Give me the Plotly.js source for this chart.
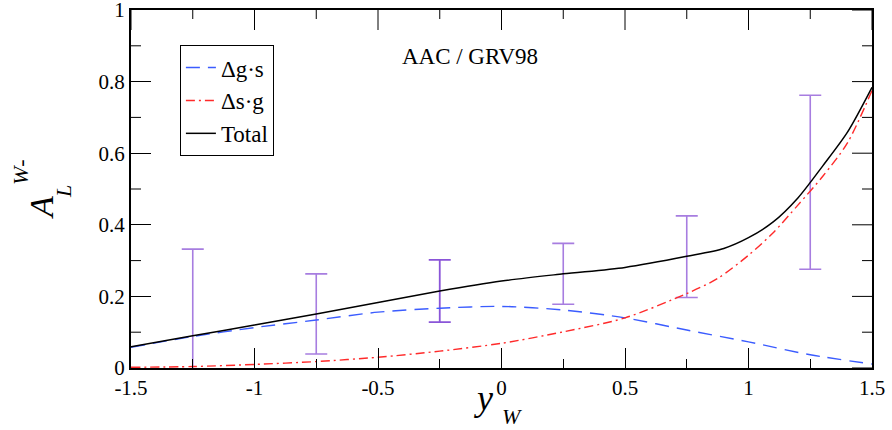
<!DOCTYPE html>
<html>
<head>
<meta charset="utf-8">
<script src="https://cdn.plot.ly/plotly-3.0.1.min.js"></script>
<style>
html,body{margin:0;padding:0;background:#fff;}
#wrap{position:relative;width:892px;height:430px;}
#plot{position:absolute;left:0;top:0;width:892px;height:430px;}
#model{position:absolute;left:320px;top:43px;width:300px;text-align:center;font-family:'Liberation Serif',serif;font-size:23px;line-height:28px;color:#000;z-index:5;}
.js-plotly-plot svg text{font-family:'Liberation Serif',serif !important;}
</style>
</head>
<body>
<div id="wrap">
<div id="plot"></div>
<div id="model">AAC / GRV98</div>
</div>
<script>
// Δg·s curve
const gsX = [-1.5,-1.25,-1,-0.75,-0.5,-0.25,0,0.25,0.5,0.75,1,1.25,1.5];
const gsY = [0.058,0.088,0.113,0.134,0.156,0.167,0.172,0.162,0.140,0.106,0.073,0.037,0.011];
// Δs·g curve
const sgX = [-1.5,-1.25,-1,-0.75,-0.5,-0.25,0,0.25,0.5,0.75,0.875,1,1.1,1.2,1.3,1.4,1.5];
const sgY = [0.002,0.004,0.010,0.018,0.030,0.047,0.069,0.101,0.140,0.208,0.250,0.315,0.378,0.455,0.535,0.628,0.775];
// Total curve
const totX = [-1.5,-1.25,-1,-0.75,-0.5,-0.25,0,0.25,0.5,0.75,0.9,1.0,1.1,1.2,1.3,1.4,1.5];
const totY = [0.059,0.090,0.120,0.151,0.183,0.215,0.243,0.263,0.281,0.312,0.334,0.364,0.408,0.475,0.564,0.658,0.784];
// projected error bars
const errX = [-1.25,-0.75,-0.25,0.25,0.75,1.25];
const errC = [0.090,0.151,0.215,0.263,0.311,0.519];
const errE = [0.242,0.112,0.087,0.085,0.114,0.243];
const darkIdx = [2];
// ticks
const xTicks = [-1.5,-1,-0.5,0,0.5,1,1.5];
const xTickText = ['-1.5','-1','-0.5','0','0.5','1','1.5'];
const xMinor = [-1.25,-0.75,-0.25,0.25,0.75,1.25];
const yTicks = [0,0.2,0.4,0.6,0.8,1];
const yTickText = ['0','0.2','0.4','0.6','0.8','1'];
const yMinor = [0.1,0.3,0.5,0.7,0.9];

const FAM = 'Liberation Serif';
const lightI = errX.map((_,i)=>i).filter(i=>!darkIdx.includes(i));
function fnt(size){ return {family:FAM, size:size, color:'#000'}; }

const traces = [
  {x: lightI.map(i=>errX[i]), y: lightI.map(i=>errC[i]), mode:'markers', marker:{size:0.1,color:'rgba(0,0,0,0)'},
   error_y:{type:'data', array: lightI.map(i=>errE[i]), color:'#a77de0', thickness:1.6, width:11}, showlegend:false, hoverinfo:'skip'},
  {x: darkIdx.map(i=>errX[i]), y: darkIdx.map(i=>errC[i]), mode:'markers', marker:{size:0.1,color:'rgba(0,0,0,0)'},
   error_y:{type:'data', array: darkIdx.map(i=>errE[i]), color:'#8a55d8', thickness:1.8, width:11}, showlegend:false, hoverinfo:'skip'},
  {x: gsX, y: gsY, mode:'lines', name:'Δg·s', line:{color:'#3b5cff', width:1.4, dash:'14px,8px', shape:'spline', smoothing:0.8}},
  {x: sgX, y: sgY, mode:'lines', name:'Δs·g', line:{color:'#ff2a2a', width:1.4, dash:'9px,4px,2px,4px', shape:'spline', smoothing:0.8}},
  {x: totX, y: totY, mode:'lines', name:'Total', line:{color:'#000000', width:1.5, shape:'spline', smoothing:0.8}}
];

// tick marks on the top and right frame edges, and minor ticks on the left, built from the tick arrays
const shapes = [];
function tk(s){ shapes.push(Object.assign({type:'line', layer:'above', line:{color:'#000', width:1}}, s)); }
xTicks.forEach(v=>tk({xref:'x', yref:'paper', x0:v, x1:v, ysizemode:'pixel', yanchor:1, y0:0, y1:-20}));
xMinor.forEach(v=>tk({xref:'x', yref:'paper', x0:v, x1:v, ysizemode:'pixel', yanchor:1, y0:0, y1:-9}));
yTicks.forEach(v=>tk({xref:'paper', yref:'y', y0:v, y1:v, xsizemode:'pixel', xanchor:1, x0:0, x1:-20}));
yMinor.forEach(v=>tk({xref:'paper', yref:'y', y0:v, y1:v, xsizemode:'pixel', xanchor:1, x0:0, x1:-10}));
yMinor.forEach(v=>tk({xref:'paper', yref:'y', y0:v, y1:v, xsizemode:'pixel', xanchor:0, x0:0, x1:10}));

const layout = {
  width:892, height:430,
  margin:{l:131, r:20, t:10, b:62},
  font:fnt(20),
  xaxis:{range:[-1.5,1.5], showline:true, mirror:true, linecolor:'#000', linewidth:2, ticks:'inside', ticklen:20, tickcolor:'#000',
         tickfont:fnt(21), tickmode:'array', tickvals:xTicks, ticktext:xTickText, gridcolor:'#ffffff', zerolinecolor:'#ffffff',
         minor:{dtick:0.25, ticklen:9, ticks:'inside', tickcolor:'#000', gridcolor:'#ffffff'}},
  yaxis:{range:[0,1], showline:true, mirror:true, linecolor:'#000', linewidth:2, ticks:'inside', ticklen:20, tickcolor:'#000',
         tickfont:fnt(21), tickmode:'array', tickvals:yTicks, ticktext:yTickText, gridcolor:'#ffffff', zerolinecolor:'#ffffff',
         ticklabeloverflow:'allow'},
  legend:{x:0.066, y:0.902, xanchor:'left', yanchor:'top', bgcolor:'#fff', bordercolor:'#000', borderwidth:1,
    font:fnt(23), tracegroupgap:0},
  showlegend:true,
  shapes:shapes,
  annotations:[
    {text:'<i>A</i>', xref:'paper', yref:'paper', x:(41-131)/741, y:(368-208)/358, xanchor:'center', yanchor:'middle', showarrow:false, textangle:-90, font:fnt(34)},
    {text:'<i>L</i>', xref:'paper', yref:'paper', x:(63-131)/741, y:(368-192)/358, xanchor:'center', yanchor:'middle', showarrow:false, textangle:-90, font:fnt(22)},
    {text:'<i>W</i>-', xref:'paper', yref:'paper', x:(20-131)/741, y:(368-172)/358, xanchor:'center', yanchor:'middle', showarrow:false, textangle:-90, font:fnt(22)},
    {text:'<i>y</i>', xref:'paper', yref:'paper', x:(483-131)/741, y:(368-398)/358, xanchor:'center', yanchor:'middle', showarrow:false, font:fnt(36)},
    {text:'<i>W</i>', xref:'paper', yref:'paper', x:(512-131)/741, y:(368-416)/358, xanchor:'center', yanchor:'middle', showarrow:false, font:fnt(22)}
  ]
};

Plotly.newPlot('plot', traces, layout, {displayModeBar:false});
</script>
</body>
</html>
